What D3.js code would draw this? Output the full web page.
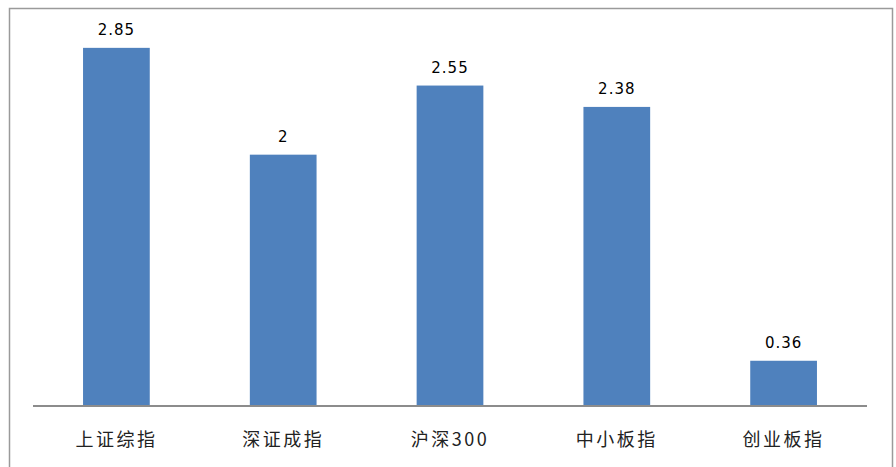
<!DOCTYPE html>
<html><head><meta charset="utf-8">
<script src="https://cdn.jsdelivr.net/npm/d3@7"></script>
<style>body{margin:0;background:#fff}svg{display:block}</style>
</head><body>
<script>
const categories = ["上证综指","深证成指","沪深300","中小板指","创业板指"];
const values = [2.85, 2, 2.55, 2.38, 0.36];
const valueLabels = ["2.85","2","2.55","2.38","0.36"];

const W = 896, H = 467;
const svg = d3.select("body").append("svg").attr("width", W).attr("height", H);
svg.append("rect").attr("width", W).attr("height", H).attr("fill", "#fff");
// outer border
svg.append("rect").attr("x", 9.5).attr("y", 8.5).attr("width", 883).attr("height", 470)
  .attr("fill", "none").attr("stroke", "#9a9a9a").attr("stroke-width", 1.5);

const x = d3.scaleBand().domain(categories).range([33, 867]).paddingInner(0.6).paddingOuter(0.3);
const y = d3.scaleLinear().domain([0, 3]).range([406, 29]);

svg.selectAll("rect.bar").data(values).join("rect").attr("class", "bar")
  .attr("x", (d, i) => x(categories[i]))
  .attr("width", x.bandwidth())
  .attr("y", d => y(d))
  .attr("height", d => y(0) - y(d))
  .attr("fill", "#4F81BD");

svg.selectAll("text.val").data(values).join("text").attr("class", "val")
  .attr("x", (d, i) => x(categories[i]) + x.bandwidth() / 2)
  .attr("y", d => y(d) - 13)
  .attr("text-anchor", "middle")
  .attr("font-family", "DejaVu Sans, Verdana, sans-serif")
  .attr("font-size", 15)
  .attr("letter-spacing", 1)
  .attr("fill", "#000")
  .text((d, i) => valueLabels[i]);

const xAxis = d3.axisBottom(x).tickSize(0).tickPadding(0);
const gx = svg.append("g").attr("transform", `translate(0,${y(0)})`).call(xAxis);
gx.select(".domain").attr("stroke", "#8c8c8c").attr("stroke-width", 2).attr("d", "M33,0H867");
gx.selectAll(".tick text")
  .attr("dy", 0).attr("y", 40)
  .attr("font-family", "Noto Sans CJK SC, sans-serif")
  .attr("font-size", 18)
  .attr("letter-spacing", 2.5)
  .attr("fill", "#222");
</script>
</body></html>
